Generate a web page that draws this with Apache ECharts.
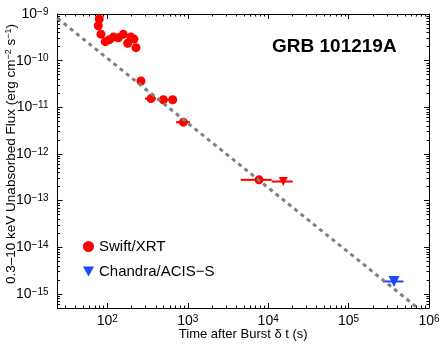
<!DOCTYPE html>
<html>
<head>
<meta charset="utf-8">
<script src="https://cdn.jsdelivr.net/npm/echarts@6/dist/echarts.min.js"></script>
<style>
  html, body { margin: 0; padding: 0; background: #fff; }
  #main { width: 443px; height: 347px; }
</style>
</head>
<body>
<div id="main"></div>
<script>
// Swift/XRT light curve: time (s), flux (erg cm^-2 s^-1), time error bar ends
var xrtTime   = [77.1, 79.4, 83.4, 94.4, 105.8, 118.6, 136.8, 157.9, 179, 196.8, 214.4, 227, 262, 349, 497, 650, 881, 7690, 15400];
var xrtFlux   = [5.6e-10, 7.8e-10, 3.7e-10, 2.55e-10, 2.8e-10, 3.2e-10, 3.1e-10, 3.67e-10, 2.35e-10, 3.2e-10, 2.9e-10, 1.9e-10, 3.67e-11, 1.54e-11, 1.45e-11, 1.45e-11, 4.8e-12, 2.79e-13, 2.57e-13];
var xrtTimeLo = [null, null, null, null, null, null, null, null, null, null, null, null, null, 294, 420, 580, 714, 4560, 11070];
var xrtTimeHi = [null, null, null, null, null, null, null, null, null, null, null, null, null, 403, 580, 730, 1067, 11070, 20200];
var xrtUpper  = [0, 0, 0, 0, 0, 0, 0, 0, 0, 0, 0, 0, 0, 0, 0, 0, 0, 0, 1];

// Chandra/ACIS-S upper limit
var cxoTime   = [367000];
var cxoFlux   = [1.85e-15];
var cxoTimeLo = [266000];
var cxoTimeHi = [480000];

// power-law decay line
var fitTime = [24, 1e6];
var fitFlux = [8.1e-10, 3.2e-16];

// axes
var xMin = 24, xMax = 1e6;
var yMin = 5e-16, yMax = 1e-9;
var xMajor = [1e2, 1e3, 1e4, 1e5, 1e6];
var yMajor = [1e-15, 1e-14, 1e-13, 1e-12, 1e-11, 1e-10, 1e-9];

var FONT = 'Liberation Sans';

function minors(lo, hi) {
    var out = [];
    for (var d = Math.floor(Math.log10(lo)); d < Math.ceil(Math.log10(hi)); d++) {
        for (var k = 2; k <= 9; k++) {
            var v = k * Math.pow(10, d);
            if (v >= lo && v <= hi) out.push(v);
        }
    }
    return out;
}

var supRich = {
    b: { fontFamily: FONT, fontSize: 14, color: '#000', lineHeight: 14, padding: [4, 0, 0, 0], verticalAlign: 'bottom' },
    s: { fontFamily: FONT, fontSize: 10, color: '#000', lineHeight: 10, verticalAlign: 'top' }
};

function makeAxis(dim, pos, ticks, len, withLine, label) {
    var ax = {
        type: 'log',
        logBase: 10,
        position: pos,
        min: dim === 'x' ? xMin : yMin,
        max: dim === 'x' ? xMax : yMax,
        axisLine: { show: withLine, onZero: false, lineStyle: { color: '#000', width: 1 } },
        axisTick: { show: true, inside: true, length: len, customValues: ticks, lineStyle: { color: '#000', width: 1 } },
        axisLabel: { show: false },
        splitLine: { show: false },
        minorTick: { show: false }
    };
    if (label) ax.axisLabel = label;
    return ax;
}

var xLabel = {
    show: true,
    customValues: xMajor,
    margin: 6,
    formatter: function (v) { return '{b|10}{s|' + Math.round(Math.log10(v)) + '}'; },
    rich: supRich
};
var yLabel = {
    show: true,
    customValues: yMajor,
    margin: 9,
    formatter: function (v) { return '{b|10}{s|\u2212' + (-Math.round(Math.log10(v))) + '}'; },
    rich: supRich
};

var xBottom = makeAxis('x', 'bottom', xMajor, 5, true, xLabel);
xBottom.name = 'Time after Burst \u03b4 t (s)';
xBottom.nameLocation = 'middle';
xBottom.nameGap = 20;
xBottom.nameMoveOverlap = false;
xBottom.nameTextStyle = { fontFamily: FONT, fontSize: 13, color: '#000' };

var yLeft = makeAxis('y', 'left', yMajor, 5, true, yLabel);
yLeft.name = '{n|0.3\u201310 keV Unabsorbed Flux (erg cm}{s|\u22122}{n| s}{s|\u22121}{n|)}';
yLeft.nameLocation = 'middle';
yLeft.nameGap = 39;
yLeft.nameMoveOverlap = false;
yLeft.nameTextStyle = {
    padding: [0, 0, 0, 14],
    rich: {
        n: { fontFamily: FONT, fontSize: 13.5, color: '#000', lineHeight: 14, padding: [4, 0, 0, 0], verticalAlign: 'bottom' },
        s: { fontFamily: FONT, fontSize: 9, color: '#000', lineHeight: 9, verticalAlign: 'top' }
    }
};

var xMinor = minors(xMin, xMax);
var yMinor = minors(yMin, yMax);

var xrtData = xrtTime.map(function (t, i) {
    var d = { value: [t, xrtFlux[i]] };
    if (xrtUpper[i]) { d.symbol = 'triangle'; d.symbolRotate = 180; d.symbolSize = 9; }
    return d;
});
var xrtBars = [];
xrtTime.forEach(function (t, i) {
    if (xrtTimeLo[i] != null) xrtBars.push([xrtTimeLo[i], xrtTimeHi[i], xrtFlux[i]]);
});
var cxoBars = cxoTime.map(function (t, i) { return [cxoTimeLo[i], cxoTimeHi[i], cxoFlux[i]]; });

function barRender(color) {
    return function (params, api) {
        var a = api.coord([api.value(0), api.value(2)]);
        var b = api.coord([api.value(1), api.value(2)]);
        return {
            type: 'line',
            shape: { x1: a[0], y1: a[1], x2: b[0], y2: b[1] },
            style: { stroke: color, lineWidth: 2 }
        };
    };
}

var downTri = 'path://M0,0 L10,0 L5,9 Z';

var chart = echarts.init(document.getElementById('main'), null, { renderer: 'canvas' });
chart.setOption({
    animation: false,
    backgroundColor: '#fff',
    grid: { left: 57.5, top: 14, right: 14, bottom: 39, containLabel: false, outerBoundsMode: 'none' },
    xAxis: [
        xBottom,
        makeAxis('x', 'bottom', xMinor, 2.5, false),
        makeAxis('x', 'top', xMajor, 5, true),
        makeAxis('x', 'top', xMinor, 2.5, false)
    ],
    yAxis: [
        yLeft,
        makeAxis('y', 'left', yMinor, 2.5, false),
        makeAxis('y', 'right', yMajor, 5, true),
        makeAxis('y', 'right', yMinor, 2.5, false)
    ],
    legend: {
        orient: 'vertical',
        left: 83,
        top: 239,
        padding: 0,
        itemGap: 10,
        itemWidth: 11,
        itemHeight: 11,
        textStyle: { fontFamily: FONT, fontSize: 15, color: '#000' },
        data: [{ name: 'Swift/XRT', icon: 'circle' }, { name: 'Chandra/ACIS\u2212S', icon: downTri }]
    },
    graphic: [{
        type: 'text',
        left: 272,
        top: 37,
        style: { text: 'GRB 101219A', fontFamily: FONT, fontWeight: 'bold', fontSize: 19, fill: '#000' }
    }],
    series: [
        {
            type: 'line',
            data: fitTime.map(function (t, i) { return [t, fitFlux[i]]; }),
            symbol: 'none',
            clip: true,
            silent: true,
            lineStyle: { color: '#808080', width: 3, type: [4, 4], cap: 'butt' }
        },
        {
            type: 'custom',
            data: xrtBars,
            renderItem: barRender('#ff0000'),
            encode: { x: [0, 1], y: 2 }
        },
        {
            type: 'custom',
            data: cxoBars,
            renderItem: barRender('#1f47ff'),
            encode: { x: [0, 1], y: 2 }
        },
        {
            name: 'Swift/XRT',
            type: 'scatter',
            symbol: 'circle',
            symbolSize: 9,
            itemStyle: { color: '#ff0000', opacity: 1 },
            data: xrtData
        },
        {
            name: 'Chandra/ACIS\u2212S',
            type: 'scatter',
            symbol: 'triangle',
            symbolRotate: 180,
            symbolSize: 11,
            itemStyle: { color: '#1f47ff', opacity: 1 },
            data: cxoTime.map(function (t, i) { return [t, cxoFlux[i]]; })
        }
    ]
});
</script>
</body>
</html>
